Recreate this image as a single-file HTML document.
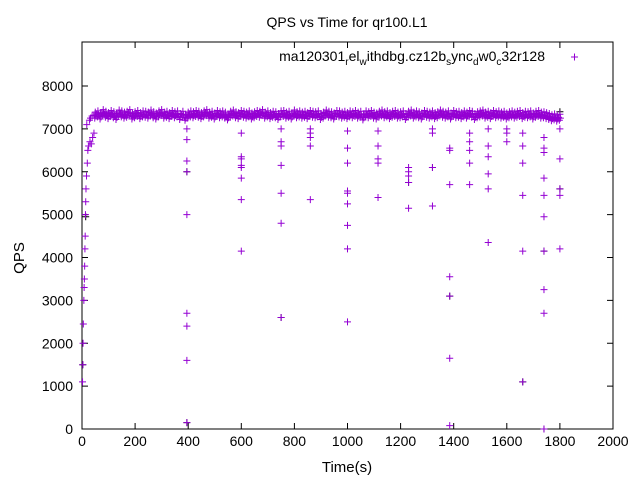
<!DOCTYPE html>
<html><head><meta charset="utf-8"><style>
body{margin:0;background:#fff}
svg text{font-family:"Liberation Sans",sans-serif;fill:#000}
</style></head><body>
<svg width="640" height="480" xmlns="http://www.w3.org/2000/svg">
<rect width="640" height="480" fill="#fff"/>
<text x="347" y="27" font-size="14" text-anchor="middle">QPS vs Time for qr100.L1</text>
<g id="axes"></g>
<g id="marks"></g>
<text x="24" y="258" font-size="15" text-anchor="middle" transform="rotate(-90 24 258)">QPS</text>
<text x="347" y="472" font-size="15" text-anchor="middle">Time(s)</text>
<g>
<text x="545" y="61" font-size="14" text-anchor="end">ma120301<tspan font-size="10" dy="4">r</tspan><tspan dy="-4">el</tspan><tspan font-size="10" dy="4">w</tspan><tspan dy="-4">ithdbg.cz12b</tspan><tspan font-size="10" dy="4">s</tspan><tspan dy="-4">ync</tspan><tspan font-size="10" dy="4">d</tspan><tspan dy="-4">w0</tspan><tspan font-size="10" dy="4">c</tspan><tspan dy="-4">32r128</tspan></text>
<path d="M571 57h7M574.5 53.5v7" stroke="#9400d3" stroke-width="1"/>
</g>
</svg>
<script>
const xTicks=[0,200,400,600,800,1000,1200,1400,1600,1800,2000];
const yTicks=[0,1000,2000,3000,4000,5000,6000,7000,8000];
const bandStart=45, bandStep=10;
const bandValues=[7320,7350,7300,7380,7340,7310,7360,7330,7290,7370,7350,7320,7340,7380,7300,7330,7360,7310,7350,7340,
7320,7370,7330,7300,7350,7380,7320,7340,7310,7360,7330,7350,7290,7340,7270,7320,7350,7330,7360,7340,
7310,7350,7380,7320,7340,7300,7360,7330,7350,7320,7280,7340,7370,7330,7310,7360,7340,7320,7350,7300,
7330,7360,7340,7380,7320,7350,7310,7340,7330,7290,7350,7360,7320,7340,7300,7370,7330,7350,7320,7340,
7310,7360,7340,7330,7350,7290,7320,7370,7340,7330,7300,7360,7350,7320,7340,7310,7350,7330,7360,7320,
7340,7280,7350,7330,7360,7320,7300,7340,7370,7330,7350,7310,7340,7360,7320,7330,7350,7290,7340,7370,
7320,7350,7330,7300,7360,7340,7320,7350,7310,7330,7370,7340,7320,7350,7300,7360,7330,7340,7310,7350,
7320,7360,7340,7290,7330,7350,7370,7320,7340,7310,7360,7330,7350,7320,7340,7300,7330,7350,7320,7340,
7360,7310,7340,7330,7350,7300,7340,7360,7320,7330,7310,7290,7260,7280,7250,7270];
const dipTimes=[2,3,4,5,7,8,9,10,11,12,13,14,15,17,18,20,22,25,28,30,35,40,45,32,38,
395,395,395,395,395,395,395,395,395,
600,600,600,600,600,600,600,600,
750,750,750,750,750,750,750,
860,860,860,860,860,
1000,1000,1000,1000,1000,1000,1000,1000,1000,
1115,1115,1115,1115,1115,
1230,1230,1230,1230,1230,
1320,1320,1320,1320,
1385,1385,1385,1385,1385,1385,1385,
1460,1460,1460,1460,1460,
1530,1530,1530,1530,1530,1530,
1600,1600,1600,
1660,1660,1660,1660,1660,1660,
1740,1740,1740,1740,1740,1740,1740,1740,1740,1740,
1800,1800,1800,1800,1800];
const dipValues=[1100,1500,2000,2450,3000,3300,3500,3800,4200,4500,5000,5300,5600,5900,7100,6200,6500,6600,7200,6700,6650,6800,6900,7250,7300,
6250,6000,5000,2700,2400,1600,150,6750,7000,
6350,6300,6150,6100,5850,5350,4150,6900,
6700,6600,6150,5500,4800,2600,7000,
6900,6800,6600,5350,7000,
6550,6200,5550,5500,5250,4750,4200,2500,6950,
6600,6300,6200,5400,6950,
6100,6000,5900,5750,5150,
7000,6900,6100,5200,
6550,6500,5700,3550,3100,1650,80,
6900,6700,6500,6200,5700,
7000,6600,6350,5950,5600,4350,
7000,6900,6700,
6900,6600,6200,5450,4150,1100,
6800,6550,6450,5850,5450,4950,4150,3250,2700,0,
6300,5600,5450,4200,7000];
const blackTimes=[395,395,1000,1230,1320,1385,1660,1740,1740,750,1800,1800,3,14];
const blackValues=[150,6000,5550,5750,6100,3100,1100,4150,0,2600,5600,7400,1500,4950];

const X0=82,X1=613,Y0=429,Y1=86;
const sx=t=>X0+(t-0)/(2000)*(X1-X0);
const sy=v=>Y0-(v/8000)*(Y0-Y1);
const NS='http://www.w3.org/2000/svg';
const axes=document.getElementById('axes'),marks=document.getElementById('marks');
function mk(tag,attrs,parent){const e=document.createElementNS(NS,tag);for(const k in attrs)e.setAttribute(k,attrs[k]);parent.appendChild(e);return e;}
const frame=mk('rect',{x:X0,y:Y1-44,width:X1-X0,height:Y0-Y1+44,fill:'none',stroke:'#000','stroke-width':1},axes);


xTicks.forEach(t=>{const x=sx(t);
 const l=mk('path',{d:`M${x} ${Y0}v-6M${x} ${Y1-44}v6`,stroke:'#000'},axes);
 
 
 const tx=mk('text',{x:x,y:Y0+17,'font-size':14,'text-anchor':'middle'},axes);tx.textContent=t;
 
 
});
yTicks.forEach(v=>{const y=sy(v);
 const l=mk('path',{d:`M${X0} ${y}h6M${X1} ${y}h-6`,stroke:'#000'},axes);
 
 
 const tx=mk('text',{x:X0-9,y:y+5,'font-size':14,'text-anchor':'end'},axes);tx.textContent=v;
 
 
});
function plus(t,v,c){const x=sx(t),y=sy(v);
 const p=mk('path',{d:`M${x-3.5} ${y}h7M${x} ${y-3.5}v7`,stroke:c,'stroke-width':1},marks);
 
 
}
blackTimes.forEach((t,i)=>plus(t,blackValues[i],'#000'));
bandValues.forEach((v,i)=>{const t=bandStart+i*bandStep;plus(t,v,'#9400d3');plus(t+5,v+70,'#9400d3');plus(t+3,v-70,'#9400d3');plus(t+7,v-20,'#9400d3');});
dipTimes.forEach((t,i)=>plus(t,dipValues[i],'#9400d3'));
</script>
</body></html>
